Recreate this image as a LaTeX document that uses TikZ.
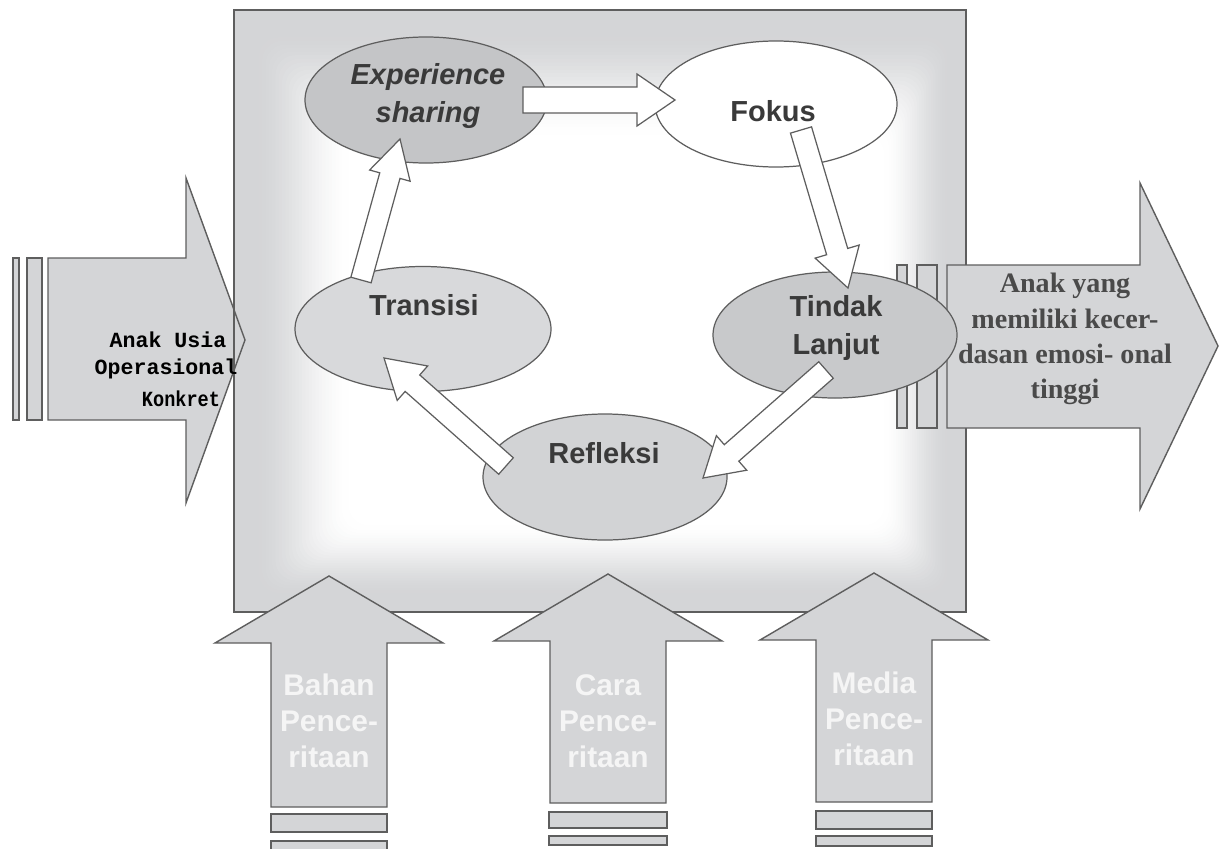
\documentclass[tikz,border=0pt]{standalone}
\usepackage{fontspec}
\setmainfont{Liberation Sans}
\newfontfamily\serifb{Liberation Serif}
\newfontfamily\monob{Liberation Mono}
\usetikzlibrary{calc,shapes.geometric}
\definecolor{boxgray}{HTML}{D4D5D7}
\definecolor{arrgray}{HTML}{D4D5D7}
\definecolor{linegray}{HTML}{5E5E5E}
\definecolor{esgray}{HTML}{C4C5C7}
\definecolor{trgray}{HTML}{D8D9DB}
\definecolor{tlgray}{HTML}{C8C9CB}
\definecolor{rfgray}{HTML}{D2D3D5}
\definecolor{txtgray}{HTML}{3A3A3A}
\definecolor{rtxt}{HTML}{4A4A4A}
\tikzset{
  mainbox/.style={draw=linegray, fill=boxgray, line width=0.8pt, inner sep=0pt, outer sep=0pt},
  bigarr/.style={draw=linegray, fill=arrgray, line width=0.8pt, line join=miter},
  blockarr/.style={draw=linegray, fill=white, line width=0.7pt, line join=miter},
  ell/.style={ellipse, draw=linegray, line width=0.7pt, inner sep=0pt},
  elltxt/.style={text=txtgray, font=\fontsize{16.5}{22}\selectfont\bfseries, align=center, inner sep=0pt},
  bottxt/.style={text=white!96!black, font=\fontsize{17}{20.5}\selectfont\bfseries, align=center, inner sep=0pt},
  lefttxt/.style={text=black, font=\monob\fontsize{12.3}{17}\selectfont\bfseries, inner sep=0pt},
}
\newcommand{\barrow}[6]{%
  \coordinate (#6h) at ($(#2)!#5!(#1)$);
  \draw[blockarr] ($(#1)!#3!90:(#2)$) -- ($(#6h)!#3!90:(#2)$) -- ($(#6h)!#4!90:(#2)$) -- (#2)
    -- ($(#6h)!#4!-90:(#2)$) -- ($(#6h)!#3!-90:(#2)$) -- ($(#1)!#3!-90:(#2)$) -- cycle;}
\newcommand{\uparr}[4]{%
  \draw[bigarr] ({#1-58},#4) -- ({#1-58},#3) -- ({#1-114},#3) -- (#1,#2) -- ({#1+114},#3)
    -- ({#1+58},#3) -- ({#1+58},#4) -- cycle;}
\begin{document}
\begin{tikzpicture}[x=0.02cm,y=-0.02cm]
\useasboundingbox (0,0) rectangle (1219,848);
\clip (0,0) rectangle (1219,848);

% main box with soft white centre
\node[mainbox, minimum width=732*0.02cm, minimum height=602*0.02cm] (box) at (600,311) {};
\foreach \i in {1,...,30}{
  \pgfmathsetmacro\xa{252+100*\i/30}
  \pgfmathsetmacro\ya{30+108*\i/30}
  \pgfmathsetmacro\xb{952-70*\i/30}
  \pgfmathsetmacro\yb{598-75*\i/30}
  \pgfmathsetmacro\pc{100*(3*(\i/30)^2-2*(\i/30)^3)}
  \fill[white!\pc!boxgray, rounded corners=0.4cm] (\xa,\ya) rectangle (\xb,\yb);
}

% left input arrow
\draw[bigarr] (48,258) -- (186,258) -- (186,178) -- (245,340) -- (186,503) -- (186,420) -- (48,420) -- cycle;
\draw[bigarr] (13,258) rectangle (19,420);
\draw[bigarr] (27,258) rectangle (42,420);
\draw[draw=linegray, line width=0.8pt] (box.north west) -- (box.south west);

% right output arrow
\draw[bigarr] (947,265) -- (1140,265) -- (1140,183) -- (1218,346) -- (1140,509) -- (1140,428) -- (947,428) -- cycle;
\draw[bigarr] (897,265) rectangle (907,428);
\draw[bigarr] (917,265) rectangle (937,428);

% bottom arrows
\uparr{329}{576}{643}{807}
\draw[bigarr] (271,814) rectangle (387,832);
\draw[bigarr] (271,841) rectangle (387,862);
\uparr{608}{574}{641}{803}
\draw[bigarr] (549,812) rectangle (667,828);
\draw[bigarr] (549,836) rectangle (667,845);
\uparr{874}{573}{640}{802}
\draw[bigarr] (816,811) rectangle (932,829);
\draw[bigarr] (816,836) rectangle (932,846);

% ellipses
\node[ell, fill=esgray, minimum width=242*0.02cm, minimum height=126*0.02cm] (es) at (426,100) {};
\node[ell, fill=white,  minimum width=242*0.02cm, minimum height=126*0.02cm] (fo) at (776,104) {};
\node[ell, fill=trgray, minimum width=256*0.02cm, minimum height=125*0.02cm] (tr) at (423,329) {};
\node[ell, fill=tlgray, minimum width=244*0.02cm, minimum height=126*0.02cm] (tl) at (835,335) {};
\node[ell, fill=rfgray, minimum width=244*0.02cm, minimum height=126*0.02cm] (rf) at (605,477) {};

% ellipse texts
\node[elltxt, font=\fontsize{16.5}{22}\selectfont\bfseries\itshape] (es-t) at (428,96) {Experience\\sharing};
\node[elltxt] (fo-t) at (773,111) {Fokus};
\node[elltxt] (tr-t) at (424,305) {Transisi};
\node[elltxt] (tl-t) at (836,328) {Tindak\\Lanjut};
\node[elltxt] (rf-t) at (604,453) {Refleksi};

% connectors (block arrows)
\coordinate (a1s) at (523,100); \coordinate (a1e) at (675,100);
\coordinate (a2s) at (801,130); \coordinate (a2e) at (848,288);
\coordinate (a3s) at (826,370); \coordinate (a3e) at (703,478);
\coordinate (a4s) at (506,466); \coordinate (a4e) at (384,358);
\coordinate (a5s) at (361,280); \coordinate (a5e) at (400,139);
\barrow{a1s}{a1e}{0.26cm}{0.52cm}{0.76cm}{a1}
\barrow{a2s}{a2e}{0.22cm}{0.46cm}{0.76cm}{a2}
\barrow{a3s}{a3e}{0.22cm}{0.46cm}{0.76cm}{a3}
\barrow{a4s}{a4e}{0.22cm}{0.46cm}{0.76cm}{a4}
\barrow{a5s}{a5e}{0.21cm}{0.42cm}{0.76cm}{a5}

% left text
\node[lefttxt] (l1) at (168,340) {Anak Usia};
\node[lefttxt] (l2) at (166,369) {Operasional};
\node[lefttxt] (l3) at (181,399) {\scalebox{0.86}[1]{Konkret}};

% right text
\node[text=rtxt, font=\serifb\fontsize{16}{20}\selectfont\bfseries, align=center, inner sep=0pt] (rt) at (1065,339)
  {Anak yang\\memiliki kecer-\\dasan emosi- onal\\tinggi};

% bottom texts
\node[bottxt] (b1) at (329,721) {Bahan\\Pence-\\ritaan};
\node[bottxt] (b2) at (608,721) {Cara\\Pence-\\ritaan};
\node[bottxt] (b3) at (874,719) {Media\\Pence-\\ritaan};
\end{tikzpicture}
\end{document}
